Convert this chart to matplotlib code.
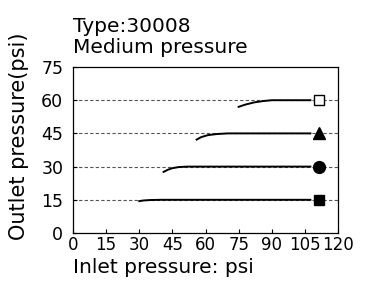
import numpy as np
import matplotlib.pyplot as plt

# set pressures and the curves
set_pressures = [15, 30, 45, 60]
markers = ['s', 'o', '^', 's']
marker_sizes = [7.5, 8.5, 9, 7.5]
marker_faces = ['black', 'black', 'black', 'white']

inlet_15 = [30, 32, 35, 40, 50, 107.5]
outlet_15 = [14.4, 14.7, 14.9, 15.0, 15.0, 15.0]
inlet_30 = [41, 43, 45, 48, 52, 107.5]
outlet_30 = [27.6, 28.6, 29.3, 29.8, 30.0, 30.0]
inlet_45 = [56, 58, 61, 65, 70, 107.5]
outlet_45 = [42.2, 43.3, 44.2, 44.7, 45.0, 45.0]
inlet_60 = [75, 78, 82, 86, 90, 107.5]
outlet_60 = [57.0, 58.0, 59.0, 59.6, 60.0, 60.0]

curves = [(inlet_15, outlet_15), (inlet_30, outlet_30),
          (inlet_45, outlet_45), (inlet_60, outlet_60)]
marker_x = 111.3

fig = plt.figure(figsize=(3.71, 2.85), dpi=100)
ax = fig.add_axes([73/371, 52/285, 265/371, 166/285])

for p in set_pressures:
    ax.axhline(p, color='#555555', lw=0.8, ls=(0, (3, 2)), zorder=1)

for (xs, ys), p, m, ms, fc in zip(curves, set_pressures, markers,
                                  marker_sizes, marker_faces):
    ax.plot(xs, ys, color='black', lw=1.4, zorder=2)
    ax.plot([marker_x], [p], marker=m, ms=ms,
            mfc=fc, mec='black', mew=1.0, ls='none', zorder=3)

ax.set_xlim(0, 120)
ax.set_ylim(0, 75)
ax.set_xticks(np.arange(0, 121, 15))
ax.set_yticks(np.arange(0, 76, 15))
ax.tick_params(direction='in', length=3, labelsize=12.5)
ax.tick_params(axis='x', pad=2, labelsize=12)
ax.tick_params(axis='y', pad=7)
for s in ax.spines.values():
    s.set_linewidth(0.9)

ax.set_xlabel('Inlet pressure: psi', fontsize=14.5, loc='left')
ax.xaxis.set_label_coords(0, -0.15)
ax.set_ylabel('Outlet pressure(psi)', fontsize=15)
ax.yaxis.set_label_coords(-0.165, 0.58)
ax.set_title('Type:30008\nMedium pressure', fontsize=14.5, loc='left',
             pad=10, linespacing=1.12)

plt.savefig('out.png', dpi=100)
